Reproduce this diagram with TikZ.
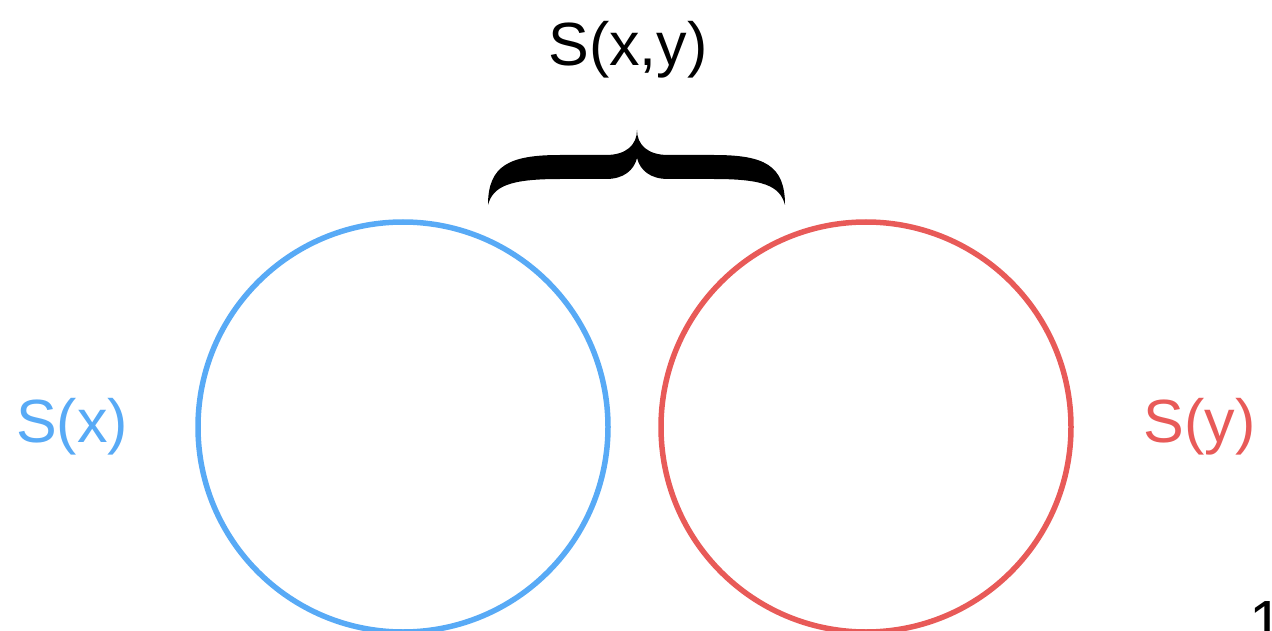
\documentclass[tikz,border=0pt]{standalone}
\usepackage{fontspec}
\setmainfont{Liberation Sans}
\usetikzlibrary{positioning}

\definecolor{sxblue}{RGB}{88,170,246}
\definecolor{syred}{RGB}{232,90,88}

\begin{document}
\begin{tikzpicture}[x=1pt, y=-1pt,
			ring/.style={draw, circle, line width=5.5pt, inner sep=0pt, minimum size=410pt},
			txt/.style={font=\fontsize{61}{63}\selectfont, inner sep=0pt}]
			\useasboundingbox (0,0) rectangle (1272,631);
			
			% circles
			\node[ring, draw=sxblue] (cx) at (403,427) {};
			\node[ring, draw=syred] (cy) at (866,427) {};
			
			% labels
			\node[txt, text=sxblue, left=67pt of cx] (lx) {S(x)};
			\node[txt, text=syred, right=70pt of cy] (ly) {S(y)};
			
			% brace
			\coordinate (tip) at (637,130);
			\fill (488,205) .. controls (488,165) and (510,155) .. (560,155) -- (606,155)
				.. controls (626,155) and (637,145) .. (tip)
				.. controls (637,145) and (648,155) .. (668,155) -- (714,155)
				.. controls (764,155) and (785,165) .. (785,205)
				.. controls (780,186) and (764,179) .. (714,179) -- (668,179)
				.. controls (650,179) and (640,170) .. (637,158)
				.. controls (634,170) and (624,179) .. (606,179) -- (560,179)
				.. controls (510,179) and (493,186) .. (488,205) -- cycle;
			\node[txt, anchor=base] (lxy) at (628,66) {S(x,y)};
			
			% page number
			\node[txt, anchor=base west] (pg) at (1249,643) {1};
			
		\end{tikzpicture}
\end{document}
